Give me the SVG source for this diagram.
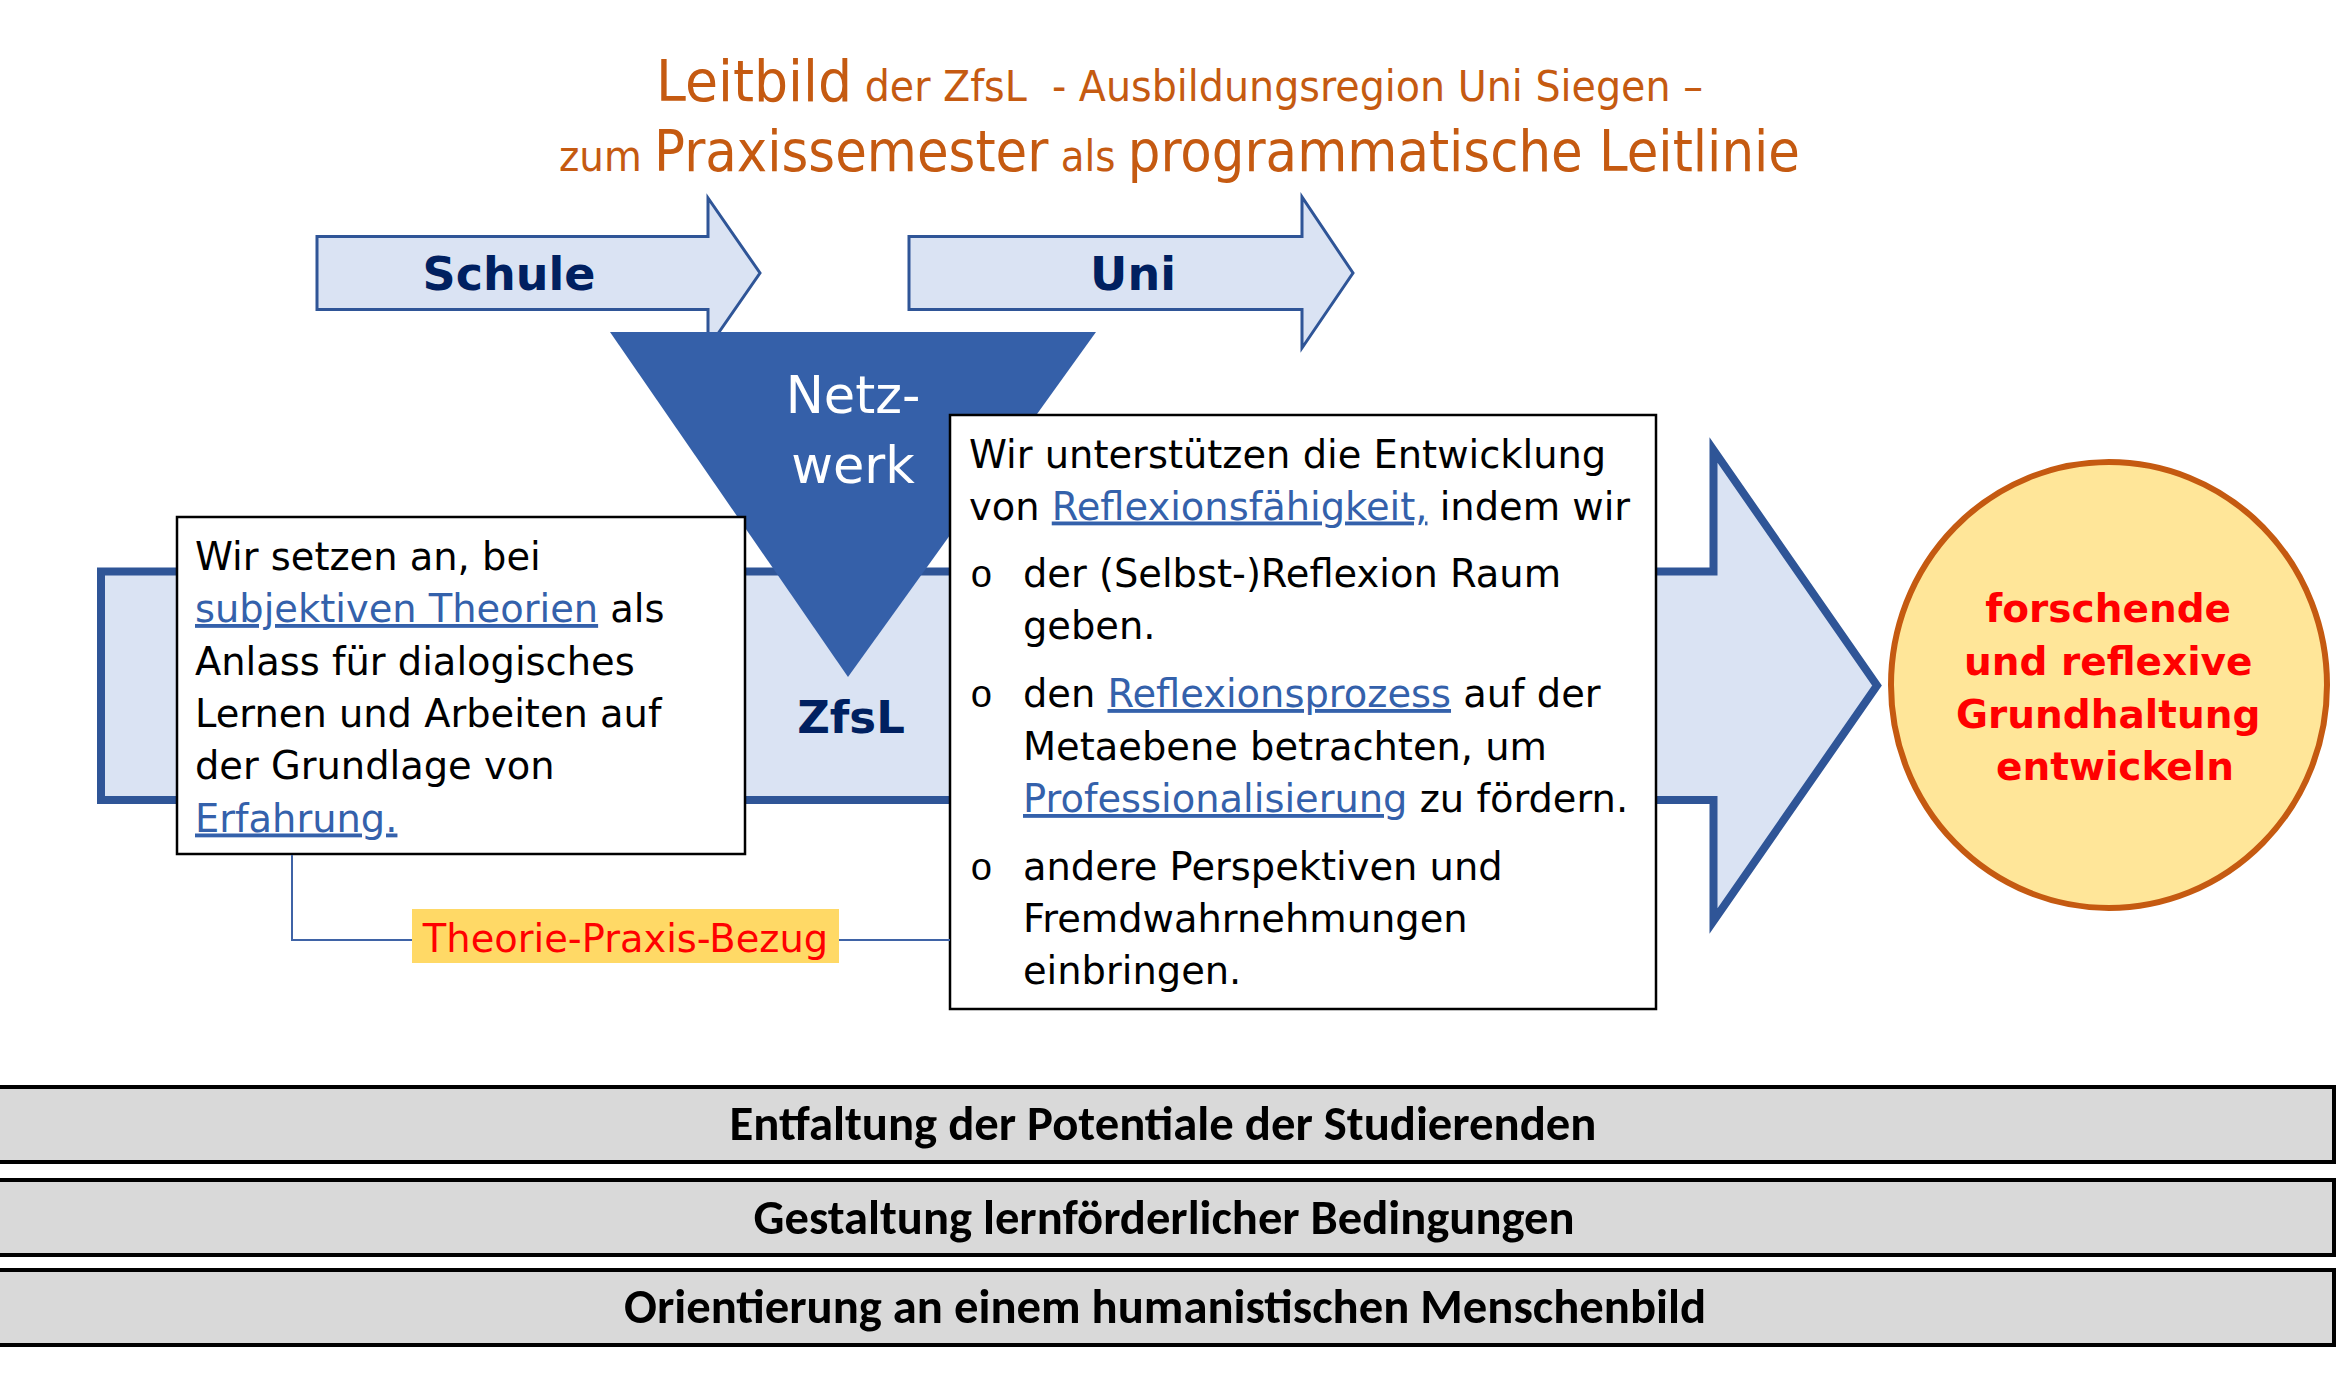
<svg xmlns="http://www.w3.org/2000/svg" width="2336" height="1386" viewBox="0 0 2336 1386">
<style>
.title{font-family:"DejaVu Sans Condensed","DejaVu Sans",sans-serif;fill:#C55A11}
.arrow{fill:#DAE3F3;stroke:#2F5597;stroke-width:3;stroke-linejoin:miter}
.big{fill:#DAE3F3;stroke:#2F5597;stroke-width:8;stroke-linejoin:miter;stroke-miterlimit:10}
.lbl{font-family:"DejaVu Sans",Verdana,sans-serif;font-weight:bold;fill:#002060}
.body{font-family:"DejaVu Sans",Verdana,sans-serif;font-size:38.4px;fill:#000}
.link{fill:#3461AB;text-decoration:underline}
.box{fill:#fff;stroke:#000;stroke-width:2.5}
.bul{font-family:"Liberation Mono","Courier New",monospace;font-size:38px;fill:#000}
.bar{fill:#D9D9D9;stroke:#000;stroke-width:4}
.bart{font-family:Carlito,Lato,"Open Sans",sans-serif;font-weight:bold;font-size:48px;fill:#000;text-anchor:middle}
.conn{fill:none;stroke:#3F63A6;stroke-width:2}
</style>

<g id="title">
<text class="title" x="656" y="101" textLength="1047" lengthAdjust="spacingAndGlyphs" xml:space="preserve"><tspan font-size="57">Leitbild</tspan><tspan font-size="42"> der ZfsL  - Ausbildungsregion Uni Siegen –</tspan></text>
<text class="title" x="559" y="171" textLength="1241" lengthAdjust="spacingAndGlyphs" xml:space="preserve"><tspan font-size="43">zum </tspan><tspan font-size="57">Praxissemester</tspan><tspan font-size="43"> als </tspan><tspan font-size="57">programmatische Leitlinie</tspan></text>
</g>

<g id="schule">
<polygon class="arrow" points="317,236.5 708,236.5 708,198 760,273 708,348 708,309.5 317,309.5"/>
<text class="lbl" x="509" y="290" font-size="46" text-anchor="middle">Schule</text>
</g>

<g id="uni">
<polygon class="arrow" points="909,236.5 1302,236.5 1302,197 1353,273 1302,348 1302,309.5 909,309.5"/>
<text class="lbl" x="1133" y="290" font-size="46" text-anchor="middle">Uni</text>
</g>

<g id="zfsl">
<polygon class="big" points="101,571.5 1713.5,571.5 1713.5,450 1877,685.5 1713.5,921 1713.5,800 101,800"/>
<text class="lbl" x="851" y="733" font-size="45" text-anchor="middle">ZfsL</text>
</g>

<g id="netzwerk">
<polygon points="610,332 1096,332 848,677" fill="#3560A9"/>
<text font-family="'DejaVu Sans',Verdana,sans-serif" font-size="51" fill="#fff" text-anchor="middle"><tspan x="853" y="413">Netz-</tspan><tspan x="853" y="483">werk</tspan></text>
</g>

<g id="box-left">
<rect class="box" x="177" y="517" width="568" height="337"/>
<text class="body">
<tspan x="195" y="570">Wir setzen an, bei</tspan>
<tspan x="195" y="622"><tspan class="link">subjektiven Theorien</tspan> als</tspan>
<tspan x="195" y="674.5">Anlass für dialogisches</tspan>
<tspan x="195" y="727">Lernen und Arbeiten auf</tspan>
<tspan x="195" y="779">der Grundlage von</tspan>
<tspan x="195" y="831.5" class="link">Erfahrung.</tspan>
</text>
</g>

<g id="box-right">
<rect class="box" x="950" y="415" width="706" height="594"/>
<text class="body">
<tspan x="969" y="467.5">Wir unterstützen die Entwicklung</tspan>
<tspan x="969" y="519.5">von <tspan class="link">Reflexionsfähigkeit,</tspan> indem wir</tspan>
<tspan x="1023" y="587">der (Selbst-)Reflexion Raum</tspan>
<tspan x="1023" y="639">geben.</tspan>
<tspan x="1023" y="707">den <tspan class="link">Reflexionsprozess</tspan> auf der</tspan>
<tspan x="1023" y="759.5">Metaebene betrachten, um</tspan>
<tspan x="1023" y="812"><tspan class="link">Professionalisierung</tspan> zu fördern.</tspan>
<tspan x="1023" y="880">andere Perspektiven und</tspan>
<tspan x="1023" y="932">Fremdwahrnehmungen</tspan>
<tspan x="1023" y="984">einbringen.</tspan>
</text>
<text class="bul"><tspan x="970" y="587">o</tspan><tspan x="970" y="707">o</tspan><tspan x="970" y="880">o</tspan></text>
</g>

<g id="connectors">
<polyline class="conn" points="292,855 292,940 412,940"/>
<line class="conn" x1="839" y1="940" x2="950" y2="940"/>
</g>

<g id="theorie-praxis">
<rect x="412" y="909" width="427" height="54" fill="#FFD966"/>
<text x="625.5" y="952" font-family="'DejaVu Sans',Verdana,sans-serif" font-size="38.4" fill="#FF0000" text-anchor="middle">Theorie-Praxis-Bezug</text>
</g>

<g id="ziel">
<ellipse cx="2109" cy="685" rx="218" ry="223" fill="#FFE699" stroke="#C55A11" stroke-width="6"/>
<text font-family="'DejaVu Sans',Verdana,sans-serif" font-weight="bold" font-size="39" fill="#FF0000" text-anchor="middle">
<tspan x="2115" y="622">forschende</tspan>
<tspan x="2115" y="675">und reflexive</tspan>
<tspan x="2115" y="727.5">Grundhaltung</tspan>
<tspan x="2115" y="780">entwickeln</tspan>
</text>
</g>

<g id="bar1">
<rect class="bar" x="-10" y="1087" width="2344" height="75"/>
<text class="bart" x="1163" y="1140" textLength="867" lengthAdjust="spacingAndGlyphs">Entfaltung der Potentiale der Studierenden</text>
</g>
<g id="bar2">
<rect class="bar" x="-10" y="1180" width="2344" height="75"/>
<text class="bart" x="1164" y="1234" textLength="821" lengthAdjust="spacingAndGlyphs">Gestaltung lernförderlicher Bedingungen</text>
</g>
<g id="bar3">
<rect class="bar" x="-10" y="1270" width="2344" height="75"/>
<text class="bart" x="1165" y="1323" textLength="1082" lengthAdjust="spacingAndGlyphs">Orientierung an einem humanistischen Menschenbild</text>
</g>
</svg>
